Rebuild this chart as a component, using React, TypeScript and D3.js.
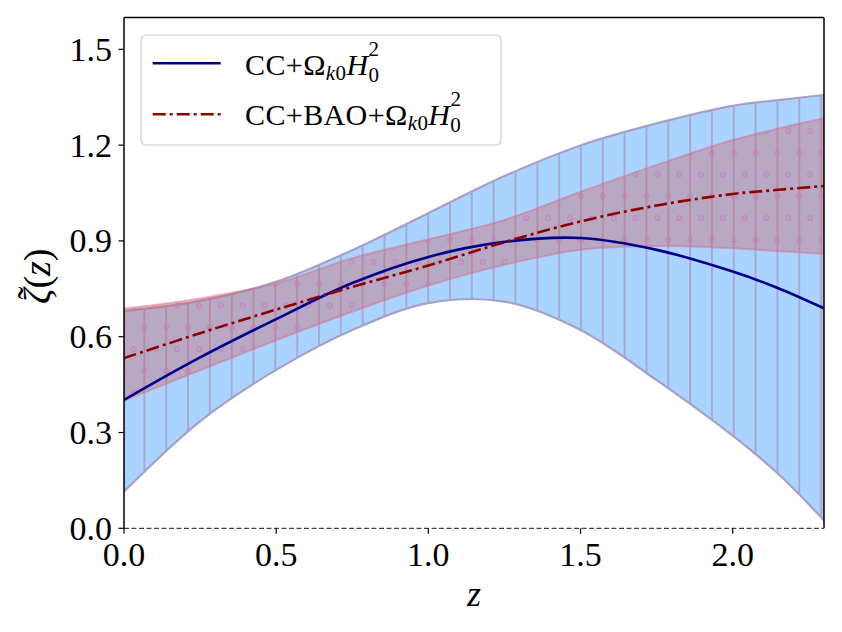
import * as d3 from "d3";

// redshift grid the values were read on
const zGrid = [0, 0.25, 0.5, 0.75, 1.0, 1.25, 1.5, 1.75, 2.0, 2.15, 2.3];

// CC + Omega_k0 H0^2
const ccMid = [0.402, 0.535, 0.655, 0.768, 0.85, 0.897, 0.909, 0.872, 0.804, 0.752, 0.689];
const ccHi = [0.68, 0.712, 0.772, 0.871, 0.987, 1.103, 1.199, 1.268, 1.323, 1.341, 1.357];
const ccLo = [0.115, 0.335, 0.496, 0.621, 0.705, 0.71, 0.621, 0.464, 0.29, 0.17, 0.025];

// CC + BAO + Omega_k0 H0^2
const bcMid = [0.533, 0.611, 0.685, 0.756, 0.823, 0.896, 0.961, 1.011, 1.047, 1.06, 1.072];
const bcHi = [0.688, 0.72, 0.767, 0.846, 0.905, 0.966, 1.054, 1.138, 1.216, 1.252, 1.284];
const bcLo = [0.4, 0.495, 0.589, 0.678, 0.76, 0.825, 0.872, 0.884, 0.877, 0.868, 0.859];

const xTicks = [0, 0.5, 1.0, 1.5, 2.0];
const yTicks = [0, 0.3, 0.6, 0.9, 1.2, 1.5];

const FONT = "'Liberation Serif', 'DejaVu Serif', serif";
const P = 21.83; // hatch period

export default function App() {
  const x = d3.scaleLinear().domain([0, 2.3]).range([124, 824]);
  const y = d3.scaleLinear().domain([0, 1.6]).range([528.3, 17.4]);
  const [x0, x1] = x.range();
  const [y0, y1] = y.range();

  const band = (lo: number[], hi: number[]) =>
    d3.area<number>()
      .x(d => x(d))
      .y0((_, i) => y(lo[i]))
      .y1((_, i) => y(hi[i]))
      .curve(d3.curveCatmullRom)(zGrid) as string;
  const line = (v: number[]) =>
    d3.line<number>()
      .x(d => x(d))
      .y((_, i) => y(v[i]))
      .curve(d3.curveCatmullRom)(zGrid) as string;

  const legendLabel = (pre: string, yb: number) => (
    <text x={245} y={yb} fontSize={30} letterSpacing={0.4}>
      {pre}<tspan fontSize={21} dy={5} fontStyle="italic">k</tspan><tspan fontSize={21}>0</tspan>
      <tspan fontStyle="italic" dy={-5}>H</tspan><tspan fontSize={21} dy={-19}>2</tspan>
      <tspan fontSize={21} dx={-11} dy={26}>0</tspan>
    </text>
  );

  return (
    <svg width={842} height={632} style={{ position: "absolute", left: 0, top: 0, background: "#fff" }}
      fontFamily={FONT}>
      <defs>
        <pattern id="vhatch" patternUnits="userSpaceOnUse" width={P} height={P} x={668.3} y={0}>
          <line x1={0} y1={0} x2={0} y2={P} stroke="#a5a0c8" strokeWidth={1.6} />
          <line x1={P} y1={0} x2={P} y2={P} stroke="#a5a0c8" strokeWidth={1.6} />
        </pattern>
        <pattern id="ohatch" patternUnits="userSpaceOnUse" width={P} height={2 * P} x={668.3} y={152.7}>
          {[[0, 0], [P, 0], [0, 2 * P], [P, 2 * P], [P / 2, P]].map(([cx, cy], i) => (
            <circle key={i} cx={cx} cy={cy} r={2.3} fill="none" stroke="#c878b4" strokeOpacity={0.7} strokeWidth={1.2} />
          ))}
        </pattern>
        <clipPath id="plot">
          <rect x={x0} y={y1} width={x1 - x0} height={y0 - y1} />
        </clipPath>
      </defs>

      <g clipPath="url(#plot)">
        <path d={band(ccLo, ccHi)} fill="#aad4ff" />
        <path d={band(ccLo, ccHi)} fill="url(#vhatch)" />
        <path d={band(ccLo, ccHi)} fill="none" stroke="#a5a0c8" strokeWidth={2.2} />

        <path d={band(bcLo, bcHi)} fill="#d8504a" fillOpacity={0.33} />
        <path d={band(bcLo, bcHi)} fill="url(#ohatch)" />
        <path d={band(bcLo, bcHi)} fill="none" stroke="#d4708c" strokeOpacity={0.5} strokeWidth={2} />

        <path d={line(ccMid)} fill="none" stroke="#00008b" strokeWidth={2.6} />
        <path d={line(bcMid)} fill="none" stroke="#8b0000" strokeWidth={2.6} strokeDasharray="13,4,3,4" />
      </g>

      {/* frame */}
      <line x1={x0} y1={y1} x2={x1} y2={y1} stroke="#000" strokeWidth={1.5} />
      <line x1={x0} y1={y1} x2={x0} y2={y0} stroke="#000" strokeWidth={1.5} />
      <line x1={x1} y1={y1} x2={x1} y2={y0} stroke="#000" strokeWidth={1.5} />
      <line x1={x0} y1={y0} x2={x1} y2={y0} stroke="#444" strokeWidth={1.3} strokeDasharray="5,2.5" />

      {/* ticks */}
      {xTicks.map(t => (
        <g key={"x" + t}>
          <line x1={x(t)} x2={x(t)} y1={y0} y2={y0 + 5.5} stroke="#000" strokeWidth={1.2} />
          <text x={x(t)} y={566} fontSize={34} textAnchor="middle">{t.toFixed(1)}</text>
        </g>
      ))}
      {yTicks.map(t => (
        <g key={"y" + t}>
          <line x1={x0 - 5.5} x2={x0} y1={y(t)} y2={y(t)} stroke="#000" strokeWidth={1.2} />
          <text x={112} y={y(t) + 11.5} fontSize={34} textAnchor="end">{t.toFixed(1)}</text>
        </g>
      ))}

      {/* axis labels */}
      <text x={474} y={606} fontSize={36} fontStyle="italic" textAnchor="middle">z</text>
      <g transform="translate(50,272) rotate(-90)">
        <text x={-32} y={0} fontSize={38}>
          <tspan fontStyle="italic">ζ</tspan>(<tspan fontStyle="italic">z</tspan>)
        </text>
        <text x={-21} y={-6} fontSize={38} textAnchor="middle">˜</text>
      </g>

      {/* legend */}
      <rect x={141} y={35} width={360} height={110} rx={5} fill="#fff" fillOpacity={0.8} stroke="#cccccc" strokeWidth={1.2} />
      <line x1={152.7} x2={220.7} y1={63.3} y2={63.3} stroke="#00008b" strokeWidth={2.6} />
      <line x1={152.7} x2={220.7} y1={114.3} y2={114.3} stroke="#8b0000" strokeWidth={2.6} strokeDasharray="13,4,3,4" />
      {legendLabel("CC+Ω", 75)}
      {legendLabel("CC+BAO+Ω", 125)}
    </svg>
  );
}
